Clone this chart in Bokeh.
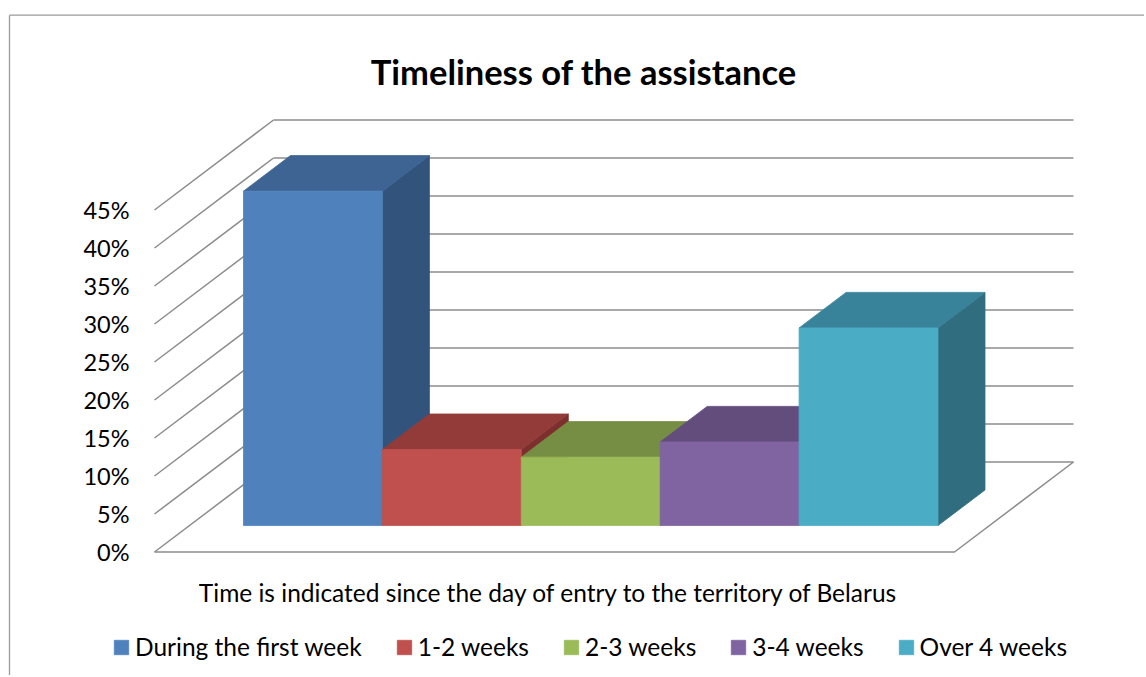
from bokeh.plotting import figure
from bokeh.models import Range1d, Legend, LegendItem
from bokeh.core.properties import value
from bokeh.embed import file_html
from bokeh.resources import INLINE

# ---------------- data ----------------
chart_title = "Timeliness of the assistance"
x_title = "Time is indicated since the day of entry to the territory  of Belarus"
series = ["During the first week", "1-2 weeks", "2-3 weeks", "3-4 weeks", "Over 4 weeks"]
values = [44, 10, 9, 11, 26]
y_ticks = [0, 5, 10, 15, 20, 25, 30, 35, 40, 45]
y_tick_labels = ["0%", "5%", "10%", "15%", "20%", "25%", "30%", "35%", "40%", "45%"]
front_colors = ["#4F81BD", "#C0504D", "#9BBB59", "#8064A2", "#4BACC6"]
top_colors = ["#3D6492", "#923B39", "#768E43", "#624D7C", "#38829A"]
side_colors = ["#32547C", "#7C2F2D", "#627737", "#513F68", "#306D7E"]

# ---------------- geometry (layout constants) ----------------
W, H = 1144, 675
PX_X = 160.0        # pixels per floor unit (5 units wide floor)
PX_Y = 7.6          # pixels per percent
ORIGIN_X = 154.0    # front-left floor corner, px from figure left
ORIGIN_Y = 551.5    # front floor line, px from figure top
DX = 119.0 / PX_X   # full depth, horizontal shift (data units)
DY = 90.0 / PX_Y    # full depth, vertical shift (percent)
F0, F1 = 0.294, 0.689   # bar depth fraction (front, back)
FLOOR = 5.0
GAP = 54.0 / PX_X
BW = 138.9 / PX_X
GRID_COLOR = "#8c8c8c"
FONT = "Lato"


def proj(x, y, d):
    return x + d * DX, y + d * DY


def px_x(fx):
    return (fx - ORIGIN_X) / PX_X


def px_y(fy):
    return (ORIGIN_Y - fy) / PX_Y


p = figure(
    width=W, height=H, output_backend="svg", toolbar_location=None,
    x_range=Range1d(px_x(0), px_x(W)), y_range=Range1d(px_y(H), px_y(0)),
    x_axis_type=None, y_axis_type=None, min_border=0,
    outline_line_color=None, background_fill_color="white",
    border_fill_color="white",
)

# chart border (left and top)
bx, by = px_x(9), px_y(14.7)
p.line([bx, bx], [px_y(H + 5), by], line_color="#9a9a9a", line_width=1.3)
p.line([bx, px_x(W + 5)], [by, by], line_color="#9a9a9a", line_width=1.3)

# walls: back wall gridlines and side wall diagonals
xs, ys = [], []
for t in y_ticks:
    a = proj(0, t, 1.0)
    b = proj(FLOOR, t, 1.0)
    xs.append([a[0], b[0]]); ys.append([a[1], b[1]])
    c = proj(0, t, 0.0)
    xs.append([c[0], a[0]]); ys.append([c[1], a[1]])
# floor front and right edges
f0 = proj(0, 0, 0.0); f1 = proj(FLOOR, 0, 0.0); f2 = proj(FLOOR, 0, 1.0)
xs.append([f0[0], f1[0], f2[0]]); ys.append([f0[1], f1[1], f2[1]])
p.multi_line(xs, ys, line_color=GRID_COLOR, line_width=1.5)

# y tick labels
p.text(x=[px_x(ORIGIN_X - 25)] * len(y_ticks), y=y_ticks, text=y_tick_labels,
       text_font=value(FONT), text_font_size="23.5px", text_color="black",
       text_align="right", text_baseline="middle")

# bars
front_renderers = []
for i, v in enumerate(values):
    x0 = GAP + i * BW
    x1 = x0 + BW
    side = [proj(x1, 0, F0), proj(x1, 0, F1), proj(x1, v, F1), proj(x1, v, F0)]
    top = [proj(x0, v, F0), proj(x1, v, F0), proj(x1, v, F1), proj(x0, v, F1)]
    front = [proj(x0, 0, F0), proj(x1, 0, F0), proj(x1, v, F0), proj(x0, v, F0)]
    p.patch([q[0] for q in side], [q[1] for q in side], fill_color=side_colors[i],
            line_color=side_colors[i], line_width=0.8)
    p.patch([q[0] for q in top], [q[1] for q in top], fill_color=top_colors[i],
            line_color=top_colors[i], line_width=0.8)
    r = p.patch([q[0] for q in front], [q[1] for q in front], fill_color=front_colors[i],
                line_color=front_colors[i], line_width=0.8)
    front_renderers.append(r)

# title and axis title
p.text(x=[px_x(583.3)], y=[px_y(71)], text=[chart_title], text_font=value(FONT),
       text_font_size="34.5px", text_font_style="bold", text_color="black",
       text_align="center", text_baseline="alphabetic")
p.text(x=[px_x(551.5)], y=[px_y(592.3)], text=[x_title], text_font=value(FONT),
       text_font_size="24.5px", text_color="black",
       text_align="center", text_baseline="alphabetic")

legend = Legend(
    items=[LegendItem(label=s, renderers=[r]) for s, r in zip(series, front_renderers)],
    orientation="horizontal", location=(112, 14), padding=0, spacing=33, margin=0,
    glyph_width=18, glyph_height=18, label_standoff=5,
    label_text_font=FONT, label_text_font_size="24.5px", label_text_color="black",
    border_line_color=None, background_fill_alpha=0,
)
p.add_layout(legend)

open("out.html", "w").write(file_html(p, INLINE))
